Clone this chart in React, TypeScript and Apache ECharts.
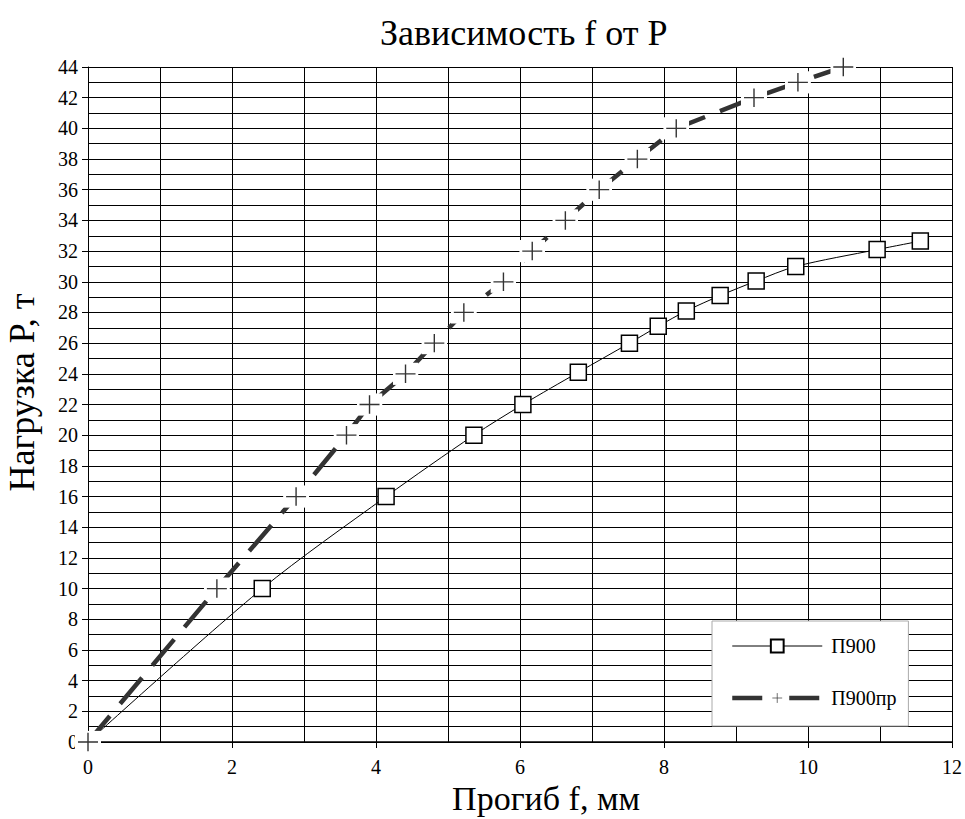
import React, { useEffect, useRef } from "react";
import * as echarts from "echarts";

const titleText = "Зависимость f от P";
const xName = "Прогиб f, мм";
const yName = "Нагрузка P, т";

const p900Name = "П900";
const p900X = [0, 2.42, 4.14, 5.36, 6.04, 6.81, 7.52, 7.92, 8.31, 8.78, 9.28, 9.83, 10.96, 11.56];
const p900Y = [0, 10, 16, 20, 22, 24.1, 26, 27.1, 28.1, 29.1, 30.05, 31, 32.1, 32.65];

const p900prName = "П900пр";
const p900prX = [0, 1.79, 2.89, 3.59, 3.91, 4.41, 4.81, 5.22, 5.77, 6.17, 6.63, 7.1, 7.63, 8.17, 9.25, 9.86, 10.49];
const p900prY = [0, 10, 16, 20, 22, 24, 26, 28, 30, 32, 34, 36, 38, 40, 42, 43, 44];

const FONT = "Liberation Serif";

const plusSvg =
  "<svg xmlns='http://www.w3.org/2000/svg' width='26' height='24' viewBox='0 0 26 24'>" +
  "<rect x='0' y='0' width='26' height='24' fill='white'/>" +
  "<path d='M3 12H23M13 2V22' stroke='#333' stroke-width='1.4' fill='none'/></svg>";
const plusSymbol = "image://data:image/svg+xml;utf8," + encodeURIComponent(plusSvg);

export default function App() {
  const ref = useRef<HTMLDivElement>(null);
  useEffect(() => {
    if (!ref.current) return;
    const chart = echarts.init(ref.current, null, { renderer: "svg" });
    const axisText = { fontFamily: FONT, fontSize: 20, color: "#000" };
    chart.setOption({
      animation: false,
      backgroundColor: "#fff",
      textStyle: { fontFamily: FONT },
      title: {
        text: titleText,
        left: 375,
        top: 10,
        textStyle: { fontFamily: FONT, fontSize: 36, fontWeight: "normal", color: "#000" },
      },
      grid: { left: 88, right: 13, top: 67, bottom: 77, containLabel: false, outerBoundsMode: "none" },
      legend: {
        orient: "vertical",
        left: 712,
        top: 621,
        data: [
          { name: p900Name, lineStyle: { width: 1, color: "#000" } },
          { name: p900prName, lineStyle: { width: 4.5, color: "#333", type: [30, 27] } },
        ],
        itemWidth: 90,
        itemHeight: 16,
        itemGap: 32,
        backgroundColor: "#fff",
        borderColor: "#aaa",
        borderWidth: 1,
        borderRadius: 0,
        padding: [15, 12, 18, 18],
        textStyle: { fontFamily: FONT, fontSize: 20, color: "#000", padding: [0, 0, 0, 4] },
      },
      xAxis: {
        type: "value",
        min: 0,
        max: 12,
        interval: 2,
        name: xName,
        nameLocation: "middle",
        nameGap: 28,
        nameTextStyle: {
          fontFamily: FONT,
          fontSize: 34,
          lineHeight: 34,
          color: "#000",
          padding: [0, 0, 0, 52],
        },
        axisLine: { show: true, lineStyle: { color: "#000", width: 1.5 } },
        axisTick: { show: true, length: 6, lineStyle: { color: "#000" } },
        axisLabel: { ...axisText, margin: 15 },
        splitLine: { show: true, lineStyle: { color: "#000", width: 1 } },
        minorTick: { show: false, splitNumber: 2 },
        minorSplitLine: { show: true, lineStyle: { color: "#000", width: 1 } },
      },
      yAxis: {
        type: "value",
        min: 0,
        max: 44,
        interval: 2,
        name: yName,
        nameLocation: "middle",
        nameGap: 48,
        nameTextStyle: { fontFamily: FONT, fontSize: 36, color: "#000", padding: [0, 0, 0, 24] },
        axisLine: { show: true, lineStyle: { color: "#000", width: 1 } },
        axisTick: { show: true, length: 6, lineStyle: { color: "#000" } },
        axisLabel: { ...axisText, margin: 10 },
        splitLine: { show: true, lineStyle: { color: "#000", width: 1 } },
        minorTick: { show: false, splitNumber: 2 },
        minorSplitLine: { show: true, lineStyle: { color: "#000", width: 1 } },
      },
      series: [
        {
          name: p900Name,
          type: "line",
          smooth: 0.3,
          z: 3,
          data: p900X.map((x, i) => [x, p900Y[i]]),
          symbol: "rect",
          symbolSize: 16,
          lineStyle: { color: "#000", width: 1 },
          itemStyle: { color: "#fff", borderColor: "#000", borderWidth: 1.5 },
          emphasis: { disabled: true },
        },
        {
          name: p900prName,
          type: "line",
          z: 4,
          data: p900prX.map((x, i) => [x, p900prY[i]]),
          symbol: plusSymbol,
          symbolSize: [26, 24],
          lineStyle: { color: "#333", width: 4.5, type: [34, 16] },
          itemStyle: { color: "#333" },
          emphasis: { disabled: true },
        },
      ],
    });
    return () => chart.dispose();
  }, []);
  return (
    <div
      ref={ref}
      style={{ position: "fixed", left: 0, top: 0, width: 965, height: 819 }}
    />
  );
}
